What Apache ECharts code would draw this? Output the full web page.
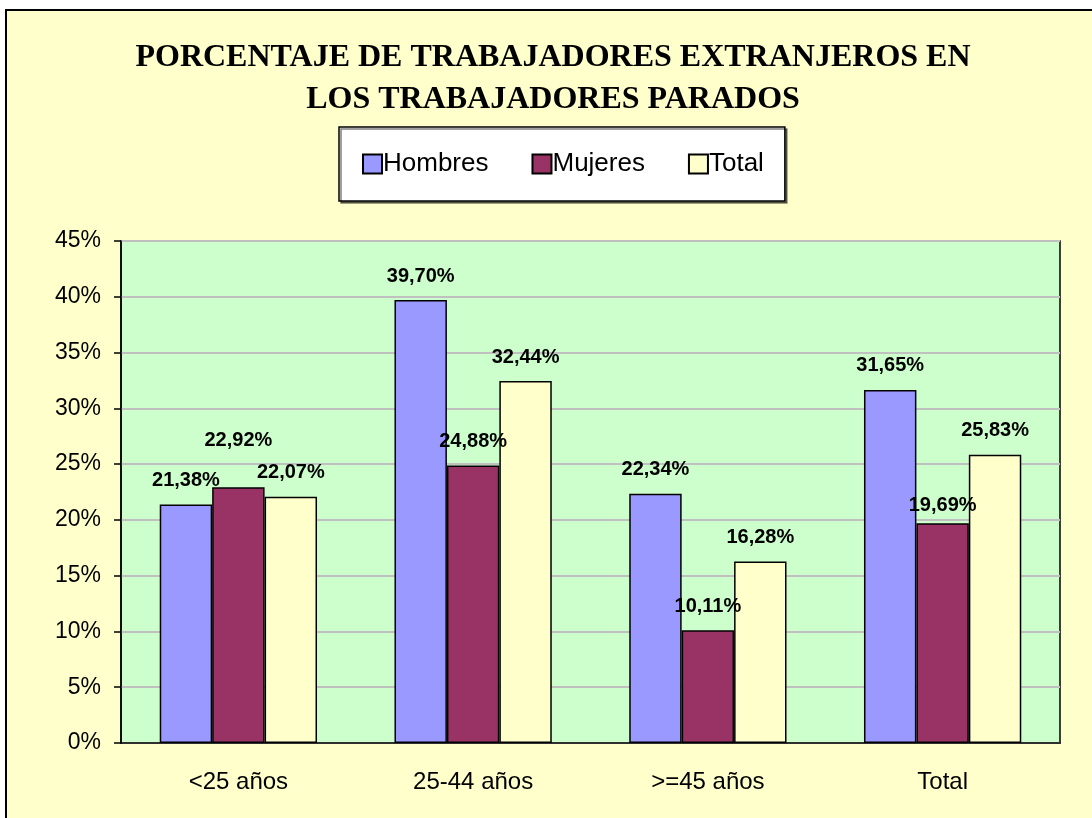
<!DOCTYPE html>
<html>
<head>
<meta charset="utf-8">
<title>Trabajadores extranjeros parados</title>
<script src="https://cdn.jsdelivr.net/npm/echarts@6/dist/echarts.min.js"></script>
<style>
  html, body { margin: 0; padding: 0; background: #fff; }
  #main { width: 1092px; height: 818px; }
</style>
</head>
<body>
<div id="main"></div>
<script>
// categorias del eje X
var categorias = ['<25 años', '25-44 años', '>=45 años', 'Total'];

// porcentajes por sexo
var hombres = [21.38, 39.70, 22.34, 31.65];
var mujeres = [22.92, 24.88, 10.11, 19.69];
var total = [22.07, 32.44, 16.28, 25.83];

var seriesNames = ['Hombres', 'Mujeres', 'Total'];
var seriesColors = ['#9999FF', '#993366', '#FFFFCC'];

// etiquetas que Excel desplazo a mano (serie:indice -> distancia)
var labelDistance = { '1:0': 37, '1:3': 8 };

var chartDom = document.getElementById('main');
var myChart = echarts.init(chartDom);

function fmt(v) {
    return v.toFixed(2).replace('.', ',') + '%';
}

function buildSeries(values, idx) {
    return {
        name: seriesNames[idx],
        type: 'bar',
        barGap: '0%',
        barCategoryGap: '33%',
        itemStyle: {
            color: seriesColors[idx],
            borderColor: '#000',
            borderWidth: 1.5
        },
        label: {
            show: true,
            position: 'top',
            distance: 14,
            color: '#000',
            fontFamily: 'Arial, "Liberation Sans", sans-serif',
            fontWeight: 'bold',
            fontSize: 20,
            formatter: function (p) { return fmt(p.value); }
        },
        data: values.map(function (v, i) {
            var d = labelDistance[idx + ':' + i];
            return d ? { value: v, label: { distance: d } } : v;
        })
    };
}

var option = {
    animation: false,
    backgroundColor: '#fff',
    graphic: [{
        type: 'rect',
        z: -10,
        silent: true,
        shape: { x: 6, y: 10, width: 1100, height: 830 },
        style: { fill: '#FFFFCC', stroke: '#000', lineWidth: 2 }
    }],
    title: {
        text: 'PORCENTAJE DE TRABAJADORES EXTRANJEROS EN\nLOS TRABAJADORES PARADOS',
        left: 553,
        textAlign: 'center',
        top: 37,
        padding: 0,
        textStyle: {
            fontFamily: '"Liberation Serif", "Times New Roman", serif',
            fontWeight: 'bold',
            fontSize: 32,
            lineHeight: 42,
            color: '#000'
        }
    },
    legend: {
        data: seriesNames,
        left: 339,
        top: 127,
        padding: [24, 21, 24, 23],
        itemWidth: 19,
        itemHeight: 19,
        itemGap: 43,
        backgroundColor: '#fff',
        borderColor: '#000',
        borderWidth: 1.5,
        shadowColor: 'rgba(0,0,0,0.5)',
        shadowOffsetX: 2,
        shadowOffsetY: 2,
        shadowBlur: 0,
        icon: 'rect',
        textStyle: {
            fontFamily: 'Arial, "Liberation Sans", sans-serif',
            fontSize: 26,
            color: '#000',
            padding: [0, 0, 0, -4]
        }
    },
    grid: {
        left: 121,
        top: 241,
        right: 32,
        bottom: 75,
        show: true,
        backgroundColor: '#CCFFCC',
        borderColor: '#000',
        borderWidth: 1.5
    },
    xAxis: {
        type: 'category',
        data: categorias,
        axisLine: { lineStyle: { color: '#000', width: 1.5 } },
        axisTick: { length: 9, lineStyle: { color: '#000', width: 1.5 } },
        axisLabel: {
            margin: 27,
            color: '#000',
            fontFamily: 'Arial, "Liberation Sans", sans-serif',
            fontSize: 24
        }
    },
    yAxis: {
        type: 'value',
        min: 0,
        max: 45,
        interval: 5,
        axisLine: { show: true, lineStyle: { color: '#000', width: 1.5 } },
        axisTick: { show: true, length: 7, lineStyle: { color: '#000', width: 1.5 } },
        splitLine: { lineStyle: { color: '#C0C0C0', width: 2 } },
        axisLabel: {
            margin: 20,
            color: '#000',
            fontFamily: 'Arial, "Liberation Sans", sans-serif',
            fontSize: 23,
            formatter: '{value}%'
        }
    },
    series: [
        buildSeries(hombres, 0),
        buildSeries(mujeres, 1),
        buildSeries(total, 2)
    ]
};

option && myChart.setOption(option);
</script>
</body>
</html>
